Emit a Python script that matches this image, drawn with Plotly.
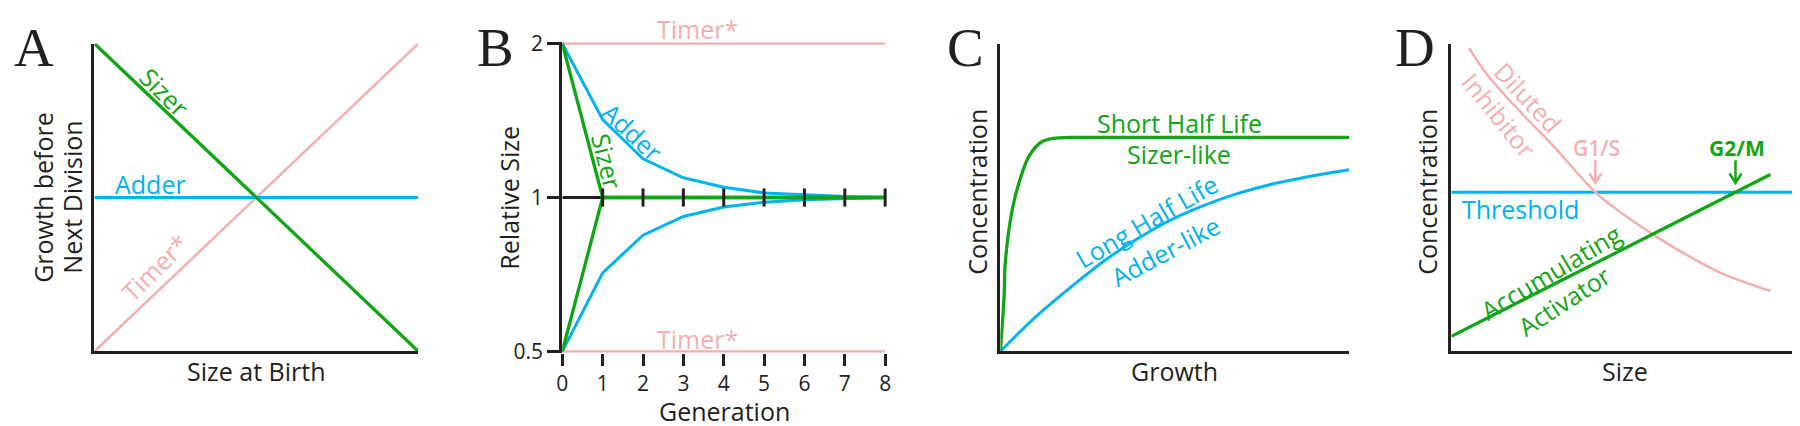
import plotly.graph_objects as go
import math

W, H = 1800, 426
FONT = "Open Sans"
DARK = "#231F20"
GREEN = "#0FA514"
BLUE = "#00B2EE"
PINK = "#F5AFAE"

# ---------------- data ----------------
# Panel A
a_x = [0, 1]
a_sizer = [1, 0]
a_adder = [0.5, 0.5]
a_timer = [0, 1]

# Panel B
b_gen = [0, 1, 2, 3, 4, 5, 6, 7, 8]
b_adder_hi = [2.0, 1.42, 1.19, 1.093, 1.047, 1.021, 1.013, 1.004, 1.0]
b_adder_lo = [0.5, 0.712, 0.844, 0.918, 0.958, 0.979, 0.99, 0.996, 1.0]
b_sizer_hi = [2.0, 1, 1, 1, 1, 1, 1, 1, 1]
b_sizer_lo = [0.5, 1, 1, 1, 1, 1, 1, 1, 1]
b_timer_hi = [2.0] * 9
b_timer_lo = [0.5] * 9
b_ytick_vals = [0.5, 1, 2]
b_ytick_text = ["0.5", "1", "2"]
b_xtick_text = ["0", "1", "2", "3", "4", "5", "6", "7", "8"]

# Panel C
c_short_x = [0, 0.011, 0.014, 0.034, 0.054, 0.083, 0.12, 0.168, 0.25, 1.0]
c_short_y = [0, 0.187, 0.287, 0.46, 0.55, 0.636, 0.682, 0.694, 0.695, 0.695]
c_long_x = [0, 0.071, 0.114, 0.211, 0.305, 0.399, 0.496, 0.590, 0.684, 0.781, 0.875, 1.0]
c_long_y = [0, 0.080, 0.125, 0.217, 0.300, 0.370, 0.431, 0.477, 0.514, 0.544, 0.566, 0.590]

# Panel D
d_thr_x = [0, 1]
d_thr_y = [0.517, 0.517]
d_act_x = [0, 0.915]
d_act_y = [0.049, 0.575]
d_inh_x = [0.051, 0.103, 0.199, 0.293, 0.413, 0.484, 0.584, 0.672, 0.769, 0.915]
d_inh_y = [0.985, 0.899, 0.777, 0.667, 0.517, 0.453, 0.376, 0.315, 0.257, 0.196]
d_g1s_x = 0.413
d_g2m_x = 0.815

# ---------------- layout helpers ----------------
def px_x(x):
    return x / W

def px_y(y):
    return 1 - y / H

TOP, BOT = 24, 351
panels = {
    "A": (81, 407),
    "B": (552, 877),
    "C": (993, 1344),
    "D": (1447, 1798),
}

fig = go.Figure()

def line(x, y, color, width, axis, shape="linear"):
    fig.add_trace(go.Scatter(x=x, y=y, mode="lines", xaxis="x" + axis, yaxis="y" + axis,
                             line=dict(color=color, width=width, shape=shape),
                             hoverinfo="skip", showlegend=False))

# Panel A
line(a_x, a_timer, PINK, 2.5, "")
line(a_x, a_adder, BLUE, 3, "")
line(a_x, a_sizer, GREEN, 3.3, "")

# Panel B
line(b_gen, b_timer_hi, PINK, 2.5, "2")
line(b_gen, b_timer_lo, PINK, 2.5, "2")
line(b_gen, [1] * 9, DARK, 3, "2")
line(b_gen, b_adder_hi, BLUE, 3, "2")
line(b_gen, b_adder_lo, BLUE, 3, "2")
line(b_gen, b_sizer_hi, GREEN, 3.3, "2")
line(b_gen, b_sizer_lo, GREEN, 3.3, "2")
fig.add_trace(go.Scatter(x=b_gen[1:], y=[1] * 8, mode="markers", xaxis="x2", yaxis="y2",
                         marker=dict(symbol="line-ns", size=13, line=dict(color=DARK, width=3)),
                         cliponaxis=False, hoverinfo="skip", showlegend=False))

# Panel C
line(c_long_x, c_long_y, BLUE, 3, "3", "spline")
line(c_short_x, c_short_y, GREEN, 3.3, "3", "spline")

# Panel D
line(d_thr_x, d_thr_y, BLUE, 3, "4")
line(d_inh_x, d_inh_y, PINK, 2.5, "4", "spline")
line(d_act_x, d_act_y, GREEN, 3.3, "4")

# axes
def dom(p):
    a, b = panels[p]
    return [px_x(a), px_x(b)]

ydom = [px_y(BOT), px_y(TOP)]
plain = dict(showgrid=False, zeroline=False, showticklabels=False, ticks="",
             showline=True, linecolor=DARK, linewidth=3, mirror=False, fixedrange=True)

layout = dict(width=W, height=H, margin=dict(l=0, r=0, t=0, b=0),
              paper_bgcolor="white", plot_bgcolor="white", showlegend=False,
              font=dict(family=FONT, color=DARK))

layout["xaxis"] = dict(plain, domain=dom("A"), range=[0, 1], anchor="y")
layout["yaxis"] = dict(plain, domain=ydom, range=[0, 1], anchor="x")
layout["xaxis3"] = dict(plain, domain=dom("C"), range=[0, 1], anchor="y3")
layout["yaxis3"] = dict(plain, domain=ydom, range=[0, 1], anchor="x3")
layout["xaxis4"] = dict(plain, domain=dom("D"), range=[0, 1], anchor="y4")
layout["yaxis4"] = dict(plain, domain=ydom, range=[0, 1], anchor="x4")

lg = math.log10(2)
pad_px = 1.5
pad = 2 * lg / (BOT - TOP) * pad_px
layout["xaxis2"] = dict(domain=dom("B"), range=[0, 8], anchor="y2", showgrid=False, zeroline=False,
                        showline=False, ticks="outside", ticklen=12, tickwidth=3, tickcolor=DARK,
                        tickvals=b_gen, ticktext=b_xtick_text, tickfont=dict(size=21, color=DARK),
                        fixedrange=True)
layout["yaxis2"] = dict(domain=[px_y(BOT + pad_px), px_y(TOP - pad_px)], type="log",
                        range=[-lg - pad, lg + pad], anchor="x2", showgrid=False, zeroline=False,
                        showline=True, linecolor=DARK, linewidth=3,
                        ticks="outside", ticklen=12, tickwidth=3, tickcolor=DARK,
                        tickvals=b_ytick_vals, ticktext=b_ytick_text,
                        tickfont=dict(size=21, color=DARK), fixedrange=True)

anns = []

def txt(t, cx, cy, color=DARK, size=25, angle=0, family=FONT, weight=None):
    f = dict(family=family, size=size, color=color)
    if weight:
        f["weight"] = weight
    anns.append(dict(text=t, x=px_x(cx), y=px_y(cy), xref="paper", yref="paper",
                     xanchor="center", yanchor="middle", showarrow=False, textangle=angle,
                     font=f))

# panel letters
for L, cx in [("A", 20), ("B", 485), ("C", 958), ("D", 1410)]:
    txt(L, cx, 28, DARK, 55, 0, "Liberation Serif")

# Panel A texts
txt("Sizer", 152, 75, GREEN, 25, 45)
txt("Adder", 137, 173, BLUE, 25)
txt("Timer*", 141, 262, PINK, 25, -45)
txt("Size at Birth", 244, 372)
txt("Growth before", 29, 187, angle=-90)
txt("Next Division", 58, 187, angle=-90)

# Panel B texts
txt("Timer*", 688, 9, PINK, 25)
txt("Timer*", 688, 338, PINK, 25)
txt("Adder", 623, 118, BLUE, 25, 43)
txt("Sizer", 597, 149, GREEN, 25, 76)
txt("Relative Size", 498, 188, angle=-90)
txt("Generation", 715, 414)

# Panel C texts
txt("Short Half Life", 1173, 108, GREEN)
txt("Sizer-like", 1173, 141, GREEN)
txt("Long Half Life", 1140, 212, BLUE, 25, -30)
txt("Adder-like", 1159, 244, BLUE, 25, -28)
txt("Concentration", 970, 182, angle=-90)
txt("Growth", 1168, 372)

# Panel D texts
txt("Concentration", 1423, 182, angle=-90)
txt("Size", 1622, 372)
txt("Threshold", 1517, 200, BLUE)
txt("Diluted", 1524, 81, PINK, 25, 47)
txt("Inhibitor", 1495, 100, PINK, 25, 51)
txt("Accumulating", 1547, 267, GREEN, 25, -31)
txt("Activator", 1560, 297, GREEN, 25, -33)
txt("G1/S", 1593, 135, PINK, 21, weight=600)
txt("G2/M", 1735, 135, GREEN, 21, weight=700)

layout["annotations"] = anns

# arrows in panel D (data coords of axis 4)
def arrow(x, color):
    tip = (351 - 172) / 327
    top = (351 - 148) / 327
    arm = (351 - 162) / 327
    dx = 6 / 351
    return dict(type="path", xref="x4", yref="y4",
                path=f"M {x},{top} L {x},{tip} M {x-dx},{arm} L {x},{tip} L {x+dx},{arm}",
                line=dict(color=color, width=2.5))

layout["shapes"] = [arrow(d_g1s_x, PINK), arrow(d_g2m_x, GREEN)]

fig.update_layout(layout)
fig.write_html("out.html")
